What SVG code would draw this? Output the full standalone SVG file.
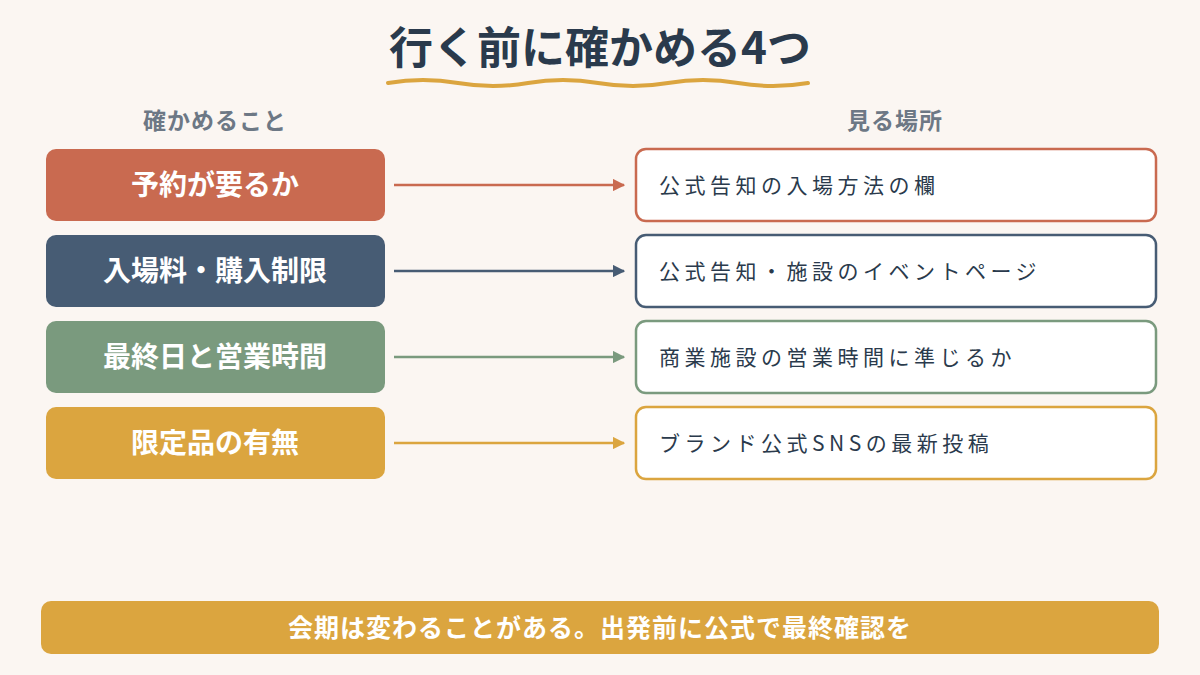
<svg xmlns="http://www.w3.org/2000/svg" width="1200" height="675" viewBox="0 0 1200 675">
<defs>
<style>
text{font-family:"Noto Sans CJK JP","Noto Sans",sans-serif}
.l{font-size:28px;font-weight:bold;fill:#fff;text-anchor:middle}
.r{font-size:21px;fill:#2a3a4c;letter-spacing:4.5px}
.h{font-size:23px;font-weight:bold;fill:#6d7885;text-anchor:middle;letter-spacing:1px}
.rb{fill:#fff;stroke-width:2.5}
</style>
<marker id="a1" viewBox="0 0 10 10" refX="9" refY="5" markerWidth="5" markerHeight="5" orient="auto"><path d="M0,0L10,5L0,10z" fill="#c96a50"/></marker>
<marker id="a2" viewBox="0 0 10 10" refX="9" refY="5" markerWidth="5" markerHeight="5" orient="auto"><path d="M0,0L10,5L0,10z" fill="#475c74"/></marker>
<marker id="a3" viewBox="0 0 10 10" refX="9" refY="5" markerWidth="5" markerHeight="5" orient="auto"><path d="M0,0L10,5L0,10z" fill="#7a9a7e"/></marker>
<marker id="a4" viewBox="0 0 10 10" refX="9" refY="5" markerWidth="5" markerHeight="5" orient="auto"><path d="M0,0L10,5L0,10z" fill="#dba53f"/></marker>
</defs>
<rect width="1200" height="675" fill="#fbf6f2"/>
<text x="600" y="64" font-size="44" font-weight="bold" fill="#2a3a4c" text-anchor="middle">行く前に確かめる4つ</text>
<path d="M388,83 Q423,77 458,83 T528,83 T598,83 T668,83 T738,83 T808,83" fill="none" stroke="#dba53f" stroke-width="4" stroke-linecap="round"/>
<text class="h" x="215" y="129">確かめること</text>
<text class="h" x="895" y="129">見る場所</text>
<g id="connectors">
<line x1="394" y1="185" x2="624" y2="185" stroke="#c96a50" stroke-width="2.5" marker-end="url(#a1)"/>
<line x1="394" y1="271" x2="624" y2="271" stroke="#475c74" stroke-width="2.5" marker-end="url(#a2)"/>
<line x1="394" y1="357" x2="624" y2="357" stroke="#7a9a7e" stroke-width="2.5" marker-end="url(#a3)"/>
<line x1="394" y1="443" x2="624" y2="443" stroke="#dba53f" stroke-width="2.5" marker-end="url(#a4)"/>
</g>
<g id="n1"><rect x="46" y="149" width="339" height="72" rx="10" fill="#c96a50"/><text class="l" x="215" y="195">予約が要るか</text></g>
<g id="n2"><rect x="46" y="235" width="339" height="72" rx="10" fill="#475c74"/><text class="l" x="215" y="281">入場料・購入制限</text></g>
<g id="n3"><rect x="46" y="321" width="339" height="72" rx="10" fill="#7a9a7e"/><text class="l" x="215" y="367">最終日と営業時間</text></g>
<g id="n4"><rect x="46" y="407" width="339" height="72" rx="10" fill="#dba53f"/><text class="l" x="215" y="453">限定品の有無</text></g>
<g id="m1"><rect class="rb" x="636" y="149" width="520" height="72" rx="10" stroke="#c96a50"/><text class="r" x="659" y="193">公式告知の入場方法の欄</text></g>
<g id="m2"><rect class="rb" x="636" y="235" width="520" height="72" rx="10" stroke="#475c74"/><text class="r" x="659" y="279">公式告知・施設のイベントページ</text></g>
<g id="m3"><rect class="rb" x="636" y="321" width="520" height="72" rx="10" stroke="#7a9a7e"/><text class="r" x="659" y="365">商業施設の営業時間に準じるか</text></g>
<g id="m4"><rect class="rb" x="636" y="407" width="520" height="72" rx="10" stroke="#dba53f"/><text class="r" x="659" y="451">ブランド公式SNSの最新投稿</text></g>
<g id="note"><rect x="41" y="601" width="1118" height="53" rx="10" fill="#dba53f"/><text x="600" y="637" font-size="25" font-weight="bold" fill="#fff" text-anchor="middle" letter-spacing="1">会期は変わることがある。出発前に公式で最終確認を</text></g>
</svg>
